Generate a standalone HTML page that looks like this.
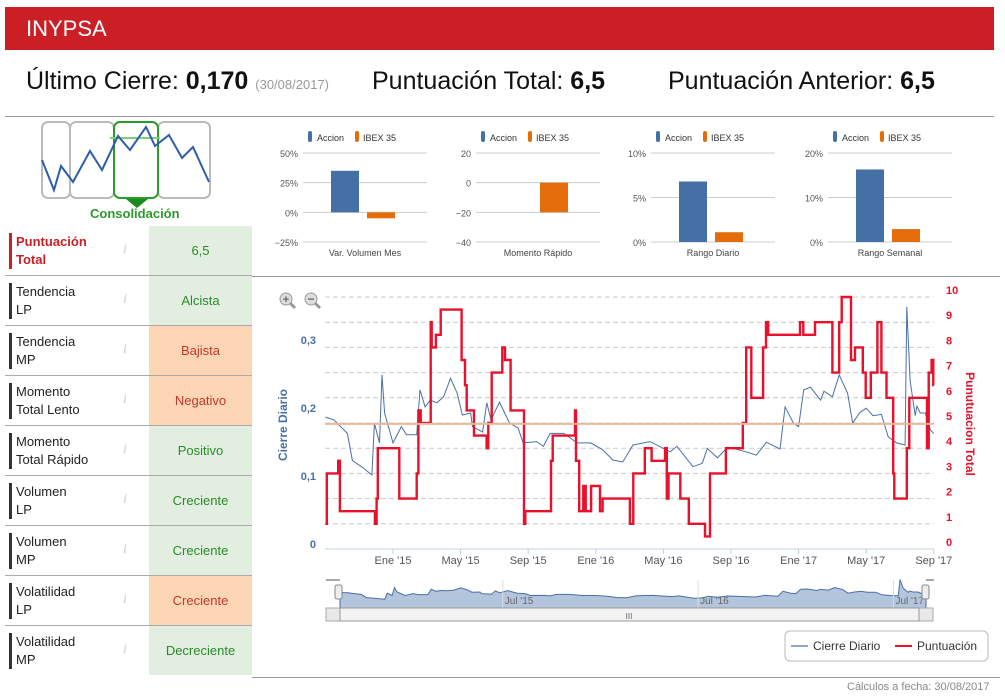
<!DOCTYPE html>
<html><head><meta charset="utf-8">
<style>
body{margin:0;width:1005px;height:698px;background:#fff;font-family:"Liberation Sans","DejaVu Sans",sans-serif;position:relative;overflow:hidden}
.abs{position:absolute}
.hdr{left:5px;top:7px;width:989px;height:43px;background:#cc1f25;color:#fff;font-size:22px;line-height:43px;padding-left:21px;box-sizing:border-box}
.big{top:67px;font-size:25px;color:#111;white-space:nowrap}
.big b{font-weight:bold}
.row{left:5px;width:247px;height:50px;border-bottom:1px solid #aaa;box-sizing:border-box}
.lab{position:absolute;left:4px;top:7px;border-left:3px solid #333;padding-left:4px;font-size:13px;line-height:18px;color:#222;height:36px}
.info{position:absolute;left:118px;top:16px;color:#ccc;font-style:italic;font-size:14px;font-family:"Liberation Serif",serif}
.val{position:absolute;left:144px;top:0;width:103px;height:49px;line-height:49px;text-align:center;font-size:13px}
.g{background:#e2efe0;color:#2a8a2a}
.o{background:#fcd5b5;color:#c0392b}
</style></head><body>
<div class="abs hdr">INYPSA</div>
<div class="abs big" style="left:26px">Último Cierre: <b>0,170</b> <span style="font-size:13px;color:#999">(30/08/2017)</span></div>
<div class="abs big" style="left:372px">Puntuación Total: <b>6,5</b></div>
<div class="abs big" style="left:668px">Puntuación Anterior: <b>6,5</b></div>
<div class="abs" style="left:5px;top:116px;width:989px;height:1px;background:#999"></div>
<div class="abs" style="left:252px;top:276px;width:748px;height:1px;background:#999"></div>
<div class="abs" style="left:252px;top:677px;width:748px;height:1px;background:#999"></div>
<div class="abs" style="left:847px;top:681px;font-size:11px;color:#888">Cálculos a fecha: 30/08/2017</div>
<div class="abs" style="left:90px;top:206px;font-size:13px;font-weight:bold;color:#2a9a2a">Consolidación</div>

<div class="abs row" style="top:226px"><div class="lab" style="border-color:#cc1f25;color:#cc1f25;font-weight:bold">Puntuación<br>Total</div><div class="info">i</div><div class="val g">6,5</div></div>
<div class="abs row" style="top:276px"><div class="lab">Tendencia<br>LP</div><div class="info">i</div><div class="val g">Alcista</div></div>
<div class="abs row" style="top:326px"><div class="lab">Tendencia<br>MP</div><div class="info">i</div><div class="val o">Bajista</div></div>
<div class="abs row" style="top:376px"><div class="lab">Momento<br>Total Lento</div><div class="info">i</div><div class="val o">Negativo</div></div>
<div class="abs row" style="top:426px"><div class="lab">Momento<br>Total Rápido</div><div class="info">i</div><div class="val g">Positivo</div></div>
<div class="abs row" style="top:476px"><div class="lab">Volumen<br>LP</div><div class="info">i</div><div class="val g">Creciente</div></div>
<div class="abs row" style="top:526px"><div class="lab">Volumen<br>MP</div><div class="info">i</div><div class="val g">Creciente</div></div>
<div class="abs row" style="top:576px"><div class="lab">Volatilidad<br>LP</div><div class="info">i</div><div class="val o">Creciente</div></div>
<div class="abs row" style="top:626px;border-bottom:none"><div class="lab">Volatilidad<br>MP</div><div class="info">i</div><div class="val g">Decreciente</div></div>

<svg id="svg" class="abs" style="left:0;top:0" width="1005" height="698" font-family="Liberation Sans, DejaVu Sans, sans-serif">
 <g fill="none" stroke-width="2">
  <rect x="42" y="122" width="28" height="76" rx="6" stroke="#bbb"/>
  <rect x="70" y="122" width="44" height="76" rx="6" stroke="#bbb"/>
  <rect x="158" y="122" width="52" height="76" rx="6" stroke="#bbb"/>
  <rect x="114" y="122" width="44" height="76" rx="6" stroke="#2a9a2a"/>
  <line x1="110" y1="138" x2="160" y2="138" stroke="#7cd07c"/>
  <polyline points="42,160 54,190 61,166 73,182 90,151 102,170 118,136 130,150 146,127 155,146 169,135 182,158 193,147 209,182" stroke="#2f5ea8"/>
  <polygon points="126,199 148,199 137,208" fill="#1a8a1a" stroke="none"/>
 </g>
 <g id="mini"></g>
 <g id="main"></g>
 <g><circle cx="286" cy="299" r="6" fill="#ddd" stroke="#999"/><line x1="290" y1="303" x2="295" y2="308" stroke="#999" stroke-width="3"/><text x="286" y="303" font-size="11" text-anchor="middle" fill="#666" font-weight="bold">+</text></g>
 <g><circle cx="311" cy="299" r="6" fill="#ddd" stroke="#999"/><line x1="315" y1="303" x2="320" y2="308" stroke="#999" stroke-width="3"/><text x="311" y="303" font-size="12" text-anchor="middle" fill="#666" font-weight="bold">−</text></g>
 <g>
  <rect x="785" y="631" width="203" height="30" rx="5" fill="#fff" stroke="#bbb"/>
  <line x1="791" y1="646" x2="808" y2="646" stroke="#8fa8c8" stroke-width="2"/>
  <text x="813" y="650" font-size="12" fill="#333">Cierre Diario</text>
  <line x1="895" y1="646" x2="912" y2="646" stroke="#e8102a" stroke-width="2"/>
  <text x="917" y="650" font-size="12" fill="#333">Puntuación</text>
 </g>
</svg>
<script>
// ---- mini bar charts data ----
var miniTitles=["Var. Volumen Mes","Momento Rápido","Rango Diario","Rango Semanal"];
var miniAccion=[35,0,6.8,16.3];
var miniIbex=[-5,-20,1.1,2.9];
var miniTicks=[[50,25,0,-25],[20,0,-20,-40],[10,5,0],[20,10,0]];
var miniTickLabels=[["50%","25%","0%","−25%"],["20","0","−20","−40"],["10%","5%","0%"],["20%","10%","0%"]];
// ---- main chart data (x = months since Jan 2015) ----
var priceMonths=[-4,-3.5,-3.3,-2.7,-2.4,-1.8,-1.25,-1.1,-0.8,-0.65,-0.5,0,0.5,0.8,1.4,1.6,1.9,2.2,2.6,3,3.4,3.8,4.1,4.6,4.7,5.3,5.55,5.8,6.3,6.9,7.4,7.7,8.5,8.9,9.3,10.1,10.9,11.7,12.4,13,13.6,14.2,15.2,16.4,16.8,17.75,18.3,18.6,19.2,19.8,20.9,21.5,22.1,22.9,23.2,23.7,24,24.3,24.7,25.3,25.5,26,26.4,26.9,27.2,27.6,28,28.4,28.9,29.3,29.8,30.3,30.4,30.6,30.9,31,31.2,31.5,31.8,32];
var priceValues=[0.194,0.19,0.185,0.17,0.13,0.12,0.109,0.185,0.156,0.256,0.2,0.156,0.18,0.168,0.168,0.234,0.209,0.219,0.215,0.224,0.251,0.229,0.197,0.2,0.18,0.172,0.215,0.19,0.216,0.185,0.178,0.156,0.158,0.151,0.17,0.17,0.156,0.156,0.146,0.131,0.128,0.153,0.158,0.143,0.151,0.121,0.126,0.148,0.134,0.15,0.143,0.138,0.157,0.147,0.209,0.185,0.18,0.234,0.238,0.219,0.232,0.224,0.256,0.229,0.185,0.2,0.207,0.196,0.198,0.165,0.156,0.153,0.356,0.248,0.196,0.21,0.2,0.2,0.175,0.17];
var scoreMonths=[-4,-3.92,-3.24,-3.14,-1.07,-0.97,-0.9,0.37,1.4,1.5,1.64,2.23,2.29,2.54,2.82,4.06,4.26,4.36,4.79,5.54,5.64,5.84,6.47,6.63,6.96,7.75,7.83,9.35,9.45,10.77,10.83,11.02,11.26,11.4,11.72,12.25,12.4,14.02,14.22,14.9,15.3,16.1,16.2,16.3,17.0,17.5,18.46,18.76,19.7,20.7,20.9,21.2,21.9,22.07,22.2,24.08,24.28,24.97,26.0,26.4,26.55,27.1,27.34,27.8,27.97,28.27,28.66,28.9,29.2,29.6,29.66,30.4,30.55,31.6,31.7,31.87,31.97];
var scoreValues=[1,3,3.5,1.5,1,2,4,2,3,5.5,5,9,8,8.5,9.5,7.5,6.5,5.5,4.5,4,5,7,8,7.5,5.5,1,1.5,3.5,4.5,5.5,3.5,1.5,2.5,1.5,2.5,1.5,2,1,3,4,3.5,4,2,3,2,1,0.5,3,4,5,8,6,8,9,8.5,9,8.5,9,7,9,10,7.5,8,7,6,7,9,7,6,3,2,4,6,4,7,7.5,6.5];
var xTickMonths=[0,4,8,12,16,20,24,28,32];
var xTickLabels=["Ene '15","May '15","Sep '15","Ene '16","May '16","Sep '16","Ene '17","May '17","Sep '17"];
var leftTicks=[0,0.1,0.2,0.3];
var leftTickLabels=["0","0,1","0,2","0,3"];
var rightTicks=[0,1,2,3,4,5,6,7,8,9,10];
var refValue=0.184;
var navTickMonths=[6,18,30];
var navTickLabels=["Jul '15","Jul '16","Jul '17"];

var NS="http://www.w3.org/2000/svg";
function el(tag,attrs,parent,txt){var e=document.createElementNS(NS,tag);for(var k in attrs)e.setAttribute(k,attrs[k]);if(txt!=null)e.textContent=txt;parent.appendChild(e);return e;}

// mini charts
function drawMini(){
var mini=document.getElementById('mini');
var miniX=[303,476,651,828];
for(var i=0;i<4;i++){
  var g=el('g',{},mini);
  
  
  var x0=miniX[i],w=124,yTop=153,yBot=242;
  var tk=miniTicks[i],tmax=tk[0],tmin=tk[tk.length-1];
  var ys=(function(a,b){return function(v){return yTop+(a-v)/(a-b)*(yBot-yTop);};})(tmax,tmin);
  for(var j=0;j<tk.length;j++){
    var gl=el('line',{x1:x0,x2:x0+w,y1:ys(tk[j]),y2:ys(tk[j]),stroke:'#ccc'},g);
    
    
    var tl=el('text',{x:x0-5,y:ys(tk[j])+4,'text-anchor':'end','font-size':9,fill:'#555'},g,miniTickLabels[i][j]);
    
    
  }
  var vals=[miniAccion[i],miniIbex[i]],cols=['#4470a5','#e46c0a'];
  for(var j=0;j<2;j++){
    var v=vals[j];if(v===0)continue;
    var y1=ys(Math.max(v,0)),y2=ys(Math.min(v,0));
    var b=el('rect',{x:x0+28+j*36,y:y1,width:28,height:y2-y1,fill:cols[j]},g);
    
    
  }
  var ct=el('text',{x:x0+w/2,y:256,'text-anchor':'middle','font-size':9,fill:'#444'},g,miniTitles[i]);
  
  
  var lg=el('g',{},g);
  
  
  el('rect',{x:x0+5,y:131,width:4,height:11,rx:2,fill:'#4470a5'},lg);
  el('text',{x:x0+14,y:141,'font-size':9,fill:'#333'},lg,'Accion');
  el('rect',{x:x0+52,y:131,width:4,height:11,rx:2,fill:'#e46c0a'},lg);
  el('text',{x:x0+60,y:141,'font-size':9,fill:'#333'},lg,'IBEX 35');
}
}
drawMini();

// main chart
var main=document.getElementById('main');
function xs(m){return 393+m*16.9;}
function yl(v){return 549-v*680;}
function yr(v){return 549-v*25.2;}
for(var k=1;k<=10;k++){
  var gl=el('line',{x1:325,x2:934,y1:yr(k),y2:yr(k),stroke:'#ccc','stroke-dasharray':'5,3'},main);
  
  
}
el('line',{x1:325,x2:934,y1:549,y2:549,stroke:'#c0d0e0'},main);
for(var k=0;k<xTickMonths.length;k++){
  var x=xs(xTickMonths[k]);
  el('line',{x1:x,x2:x,y1:549,y2:554,stroke:'#c0d0e0'},main);
  var t=el('text',{x:x,y:564,'text-anchor':'middle','font-size':11,fill:'#555'},main,xTickLabels[k]);
  
  
}
for(var k=0;k<leftTicks.length;k++){
  var t=el('text',{x:316,y:yl(leftTicks[k])-1,'text-anchor':'end','font-size':11,'font-weight':'bold',fill:'#4a6fa5'},main,leftTickLabels[k]);
  
  
}
for(var k=0;k<rightTicks.length;k++){
  var t=el('text',{x:946,y:yr(rightTicks[k])-3,'font-size':11,'font-weight':'bold',fill:'#e8102a'},main,String(rightTicks[k]));
  
  
}
var lt=el('text',{x:0,y:0,transform:'translate(287,425) rotate(-90)','text-anchor':'middle','font-size':12,'font-weight':'bold',fill:'#4a6fa5'},main,'Cierre Diario');


var rt=el('text',{x:0,y:0,transform:'translate(966,424) rotate(90)','text-anchor':'middle','font-size':12,'font-weight':'bold',fill:'#e8102a'},main,'Punutuacion Total');


// price
var pp=[];for(var k=0;k<priceMonths.length;k++)pp.push(xs(priceMonths[k]).toFixed(1)+','+yl(priceValues[k]).toFixed(1));
var pl=el('polyline',{points:pp.join(' '),fill:'none',stroke:'#4a6fa5','stroke-width':1},main);


// score step
var sp=[];
for(var k=0;k<scoreMonths.length;k++){
  var xa=xs(scoreMonths[k]),xb=xs(k+1<scoreMonths.length?scoreMonths[k+1]:32),y=yr(scoreValues[k]);
  sp.push(xa.toFixed(1)+','+y.toFixed(1));sp.push(xb.toFixed(1)+','+y.toFixed(1));
}
var sl=el('polyline',{points:sp.join(' '),fill:'none',stroke:'#e8102a','stroke-width':2.4},main);


var rl=el('line',{x1:325,x2:934,y1:yl(refValue),y2:yl(refValue),stroke:'#e8b898','stroke-width':2},main);



// navigator
var nav=el('g',{},main);


function nx(m){return 340+(m+4)/36*586;}
function ny(v){return 608-v*80;}
var np=[nx(priceMonths[0])+',608'];
for(var k=0;k<priceMonths.length;k++)np.push(nx(priceMonths[k]).toFixed(1)+','+ny(priceValues[k]).toFixed(1));
np.push(nx(32)+',608');
el('polygon',{points:np.join(' '),fill:'#b3c5dc',stroke:'#4a6fa5','stroke-width':1},nav);
for(var k=0;k<navTickMonths.length;k++){
  var x=nx(navTickMonths[k]);
  el('line',{x1:x,x2:x,y1:580,y2:608,stroke:'#ddd'},nav);
  el('text',{x:x+2,y:604,'font-size':10,fill:'#666'},nav,navTickLabels[k]);
}
el('line',{x1:326,x2:340,y1:580,y2:580,stroke:'#555'},nav);
el('line',{x1:926,x2:934,y1:580,y2:580,stroke:'#555'},nav);
el('rect',{x:335,y:585,width:7,height:14,rx:2,fill:'#eee',stroke:'#888'},nav);
el('rect',{x:922,y:585,width:7,height:14,rx:2,fill:'#eee',stroke:'#888'},nav);
var sb=el('rect',{x:326,y:608,width:607,height:13,fill:'#e8e8e8',stroke:'#aaa'},nav);


el('rect',{x:340,y:608,width:579,height:13,fill:'#f2f2f2',stroke:'#999'},nav);
el('text',{x:629,y:619,'font-size':8,fill:'#666','text-anchor':'middle'},nav,'III');
</script>
</body></html>
